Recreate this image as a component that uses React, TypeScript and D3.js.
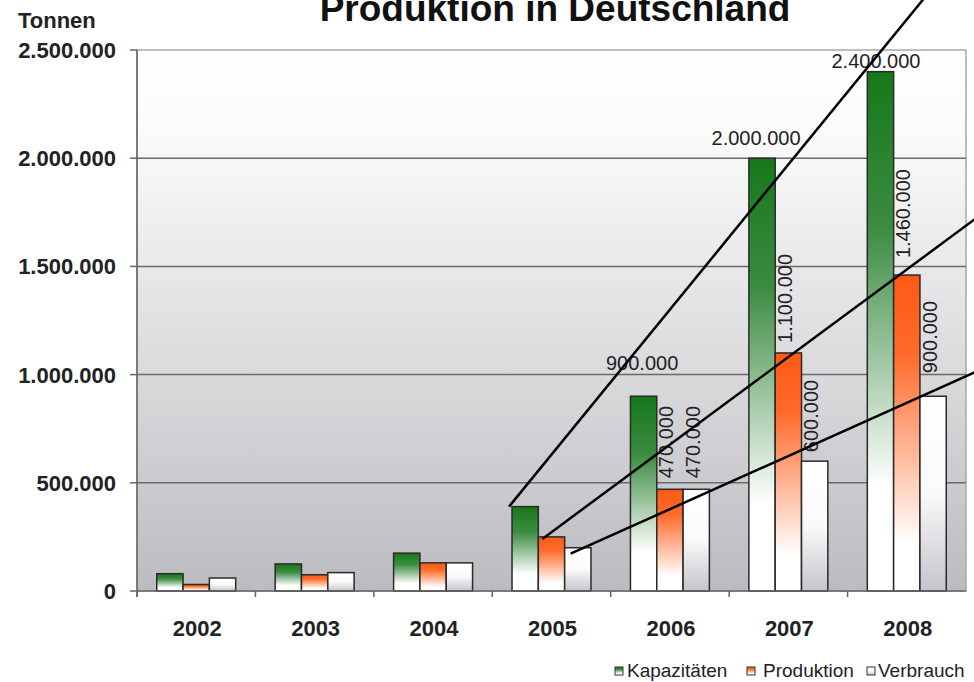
import React from "react";
import * as d3 from "d3";

const years = ["2002", "2003", "2004", "2005", "2006", "2007", "2008"];
const kapazitaeten = [80000, 125000, 175000, 390000, 900000, 2000000, 2400000];
const produktion = [30000, 75000, 130000, 250000, 470000, 1100000, 1460000];
const verbrauch = [60000, 85000, 130000, 200000, 470000, 600000, 900000];
const seriesNames = ["Kapazitäten", "Produktion", "Verbrauch"];
const labeledYears = ["2006", "2007", "2008"];
const yTicks = [0, 500000, 1000000, 1500000, 2000000, 2500000];
const annotationYear = "2005";

// style / placement config (not data)
const annotationDirs = [
  [414, -507],
  [418, -309],
  [403, -181],
];
const greenLabelDy = [-26, -13, -4];
const greenLabelDx = [-1.5, -6, -4.5];
const orangeLabelGap = [11, 10, 17];
const whiteLabelGap = [11, 9, 23];

const W = 974;
const H = 682;
const M = { left: 137, right: 8, top: 50, bottom: 91 };
const FONT = "'Liberation Sans', Arial, Helvetica, sans-serif";

const loc = d3.formatLocale({ decimal: ",", thousands: ".", grouping: [3], currency: ["", "€"] });
const fmt = loc.format(",d");

export default function App() {
  const x = d3.scaleBand().domain(years).range([M.left, W - M.right]).paddingInner(0).paddingOuter(0);
  const xs = d3.scaleBand().domain(seriesNames).range([0, x.bandwidth()]).paddingInner(0).paddingOuter(0.75);
  const y = d3.scaleLinear().domain([0, 2500000]).range([H - M.bottom, M.top]);
  const series = [kapazitaeten, produktion, verbrauch];
  const fills = ["url(#gGreen)", "url(#gOrange)", "url(#gWhite)"];
  const y0 = y(0);
  const right = W - M.right;

  const ai = years.indexOf(annotationYear);
  const annStarts = series.map((s, k) => {
    const bx = (x(annotationYear) as number) + (xs(seriesNames[k]) as number);
    const top = y(s[ai]);
    const offs = [[-3, 0], [4, 2], [6, 6]][k];
    return [bx + offs[0], top + offs[1]];
  });

  return (
    <svg width={W} height={H} style={{ position: "absolute", left: 0, top: 0, background: "#fff" }} fontFamily={FONT}>
      <defs>
        <linearGradient id="bg" x1="0" y1="0" x2="0" y2="1">
          <stop offset="0" stopColor="#ffffff" />
          <stop offset="0.15" stopColor="#fbfbfb" />
          <stop offset="1" stopColor="#bcbbc0" />
        </linearGradient>
        <linearGradient id="gGreen" x1="0" y1="0" x2="0" y2="1">
          <stop offset="0" stopColor="#16781a" />
          <stop offset="0.3" stopColor="#3c8c42" />
          <stop offset="0.8" stopColor="#ffffff" />
          <stop offset="1" stopColor="#ffffff" />
        </linearGradient>
        <linearGradient id="gOrange" x1="0" y1="0" x2="0" y2="1">
          <stop offset="0" stopColor="#ff5a14" />
          <stop offset="0.25" stopColor="#ff6a2a" />
          <stop offset="0.85" stopColor="#ffffff" />
          <stop offset="1" stopColor="#ffffff" />
        </linearGradient>
        <linearGradient id="gWhite" x1="0" y1="0" x2="0" y2="1">
          <stop offset="0" stopColor="#ffffff" />
          <stop offset="0.5" stopColor="#fafafa" />
          <stop offset="1" stopColor="#c4c4cc" />
        </linearGradient>
      </defs>

      {/* plot background */}
      <rect x={M.left} y={M.top} width={right - M.left} height={y0 - M.top} fill="url(#bg)" stroke="#a8a8a8" strokeWidth={1.5} />

      {/* gridlines */}
      {yTicks.slice(1, -1).map((t) => (
        <line key={t} x1={M.left} x2={right} y1={y(t)} y2={y(t)} stroke="#6a6a6a" strokeWidth={1.5} />
      ))}

      {/* titles */}
      <text x={555} y={21} textAnchor="middle" fontSize={37} fontWeight="bold" fill="#111">
        Produktion in Deutschland
      </text>
      <text x={18} y={28} fontSize={22} fontWeight="bold" fill="#222">Tonnen</text>

      {/* y axis */}
      <line x1={M.left} x2={M.left} y1={M.top} y2={y0 + 6} stroke="#666" strokeWidth={1.5} />
      {yTicks.map((t) => (
        <g key={t}>
          <line x1={M.left - 7} x2={M.left} y1={y(t)} y2={y(t)} stroke="#666" strokeWidth={1.5} />
          <text x={116} y={y(t) + 8} textAnchor="end" fontSize={22} fontWeight="bold" fill="#222">
            {fmt(t)}
          </text>
        </g>
      ))}

      {/* bars */}
      {years.map((yr, i) => (
        <g key={yr}>
          {series.map((s, k) => {
            const bx = (x(yr) as number) + (xs(seriesNames[k]) as number);
            const by = y(s[i]);
            return (
              <rect key={k} x={bx} y={by} width={xs.bandwidth()} height={y0 - by} fill={fills[k]} stroke="#2a2a2a" strokeWidth={1.5} />
            );
          })}
        </g>
      ))}

      {/* x axis */}
      <line x1={M.left} x2={right} y1={y0} y2={y0} stroke="#666" strokeWidth={1.5} />
      {years.map((yr) => (
        <g key={yr}>
          <line x1={x(yr) as number} x2={x(yr) as number} y1={y0} y2={y0 + 6} stroke="#666" strokeWidth={1.5} />
          <text x={(x(yr) as number) + x.bandwidth() / 2 + 1} y={636} textAnchor="middle" fontSize={22} fontWeight="bold" fill="#222">
            {yr}
          </text>
        </g>
      ))}

      {/* value labels */}
      {years.map((yr, i) => {
        const li = labeledYears.indexOf(yr);
        if (li < 0) return null;
        return (
          <g key={yr}>
            {series.map((s, k) => {
              const cx = (x(yr) as number) + (xs(seriesNames[k]) as number) + xs.bandwidth() / 2;
              const by = y(s[i]);
              if (k === 0) {
                return (
                  <text key={k} x={cx + greenLabelDx[li]} y={by + greenLabelDy[li]} textAnchor="middle" fontSize={20} fill="#222">
                    {fmt(s[i])}
                  </text>
                );
              }
              const gap = k === 1 ? orangeLabelGap[li] : whiteLabelGap[li];
              return (
                <text key={k} transform={`translate(${cx + 3.5},${by - gap}) rotate(-90)`} fontSize={20} fill="#222">
                  {fmt(s[i])}
                </text>
              );
            })}
          </g>
        );
      })}

      {/* annotation lines */}
      {annStarts.map((p, k) => {
        const [dx, dy] = annotationDirs[k];
        return <line key={k} x1={p[0]} y1={p[1]} x2={p[0] + dx * 1.2} y2={p[1] + dy * 1.2} stroke="#000" strokeWidth={2.5} />;
      })}

      {/* legend */}
      {[
        [615, 627],
        [747, 763],
        [867, 878],
      ].map(([sx, tx], k) => (
        <g key={k}>
          <rect x={sx} y={667} width={8} height={8} fill={fills[k]} stroke="#333" strokeWidth={1} />
          <text x={tx} y={677} fontSize={19} fill="#222">{seriesNames[k]}</text>
        </g>
      ))}
    </svg>
  );
}
